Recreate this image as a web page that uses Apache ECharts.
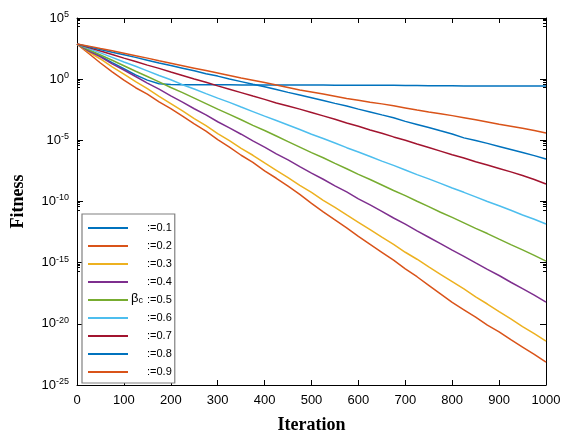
<!DOCTYPE html>
<html><head><meta charset="utf-8">
<script src="https://cdn.jsdelivr.net/npm/echarts@6/dist/echarts.min.js"></script>
</head><body style="margin:0;padding:0;background:#fff">
<div id="c" style="width:563px;height:435px;"></div>
<script>
// iteration sample points
const iterations = [0,25,50,75,100,125,150,175,200,225,250,275,300,325,350,375,400,425,450,475,500,
  525,550,575,600,625,650,675,700,725,750,775,800,825,850,875,900,925,950,975,1000];
// log10(fitness)
const beta01 = [2.87,2.38,1.88,1.35,0.85,0.35,-0.08,-0.38,-0.44,-0.45,-0.45,-0.46,-0.46,-0.46,-0.47,-0.47,-0.47,-0.47,-0.48,-0.48,-0.48,
  -0.48,-0.49,-0.49,-0.49,-0.50,-0.50,-0.50,-0.51,-0.52,-0.53,-0.53,-0.54,-0.55,-0.55,-0.55,-0.56,-0.56,-0.56,-0.56,-0.56];
const beta02 = [2.87,2.10,1.32,0.60,-0.08,-0.70,-1.22,-1.85,-2.40,-3.02,-3.66,-4.25,-4.95,-5.55,-6.22,-6.80,-7.50,-8.10,-8.75,-9.42,-10.15,
  -10.85,-11.50,-12.15,-12.85,-13.50,-14.15,-14.80,-15.50,-16.15,-16.85,-17.55,-18.25,-18.85,-19.45,-20.10,-20.65,-21.30,-21.90,-22.50,-23.13];
const beta03 = [2.87,2.22,1.65,1.00,0.42,-0.20,-0.78,-1.40,-2.00,-2.60,-3.22,-3.80,-4.45,-5.02,-5.65,-6.22,-6.85,-7.45,-8.05,-8.68,-9.25,
  -9.90,-10.48,-11.10,-11.70,-12.30,-12.92,-13.50,-14.15,-14.72,-15.35,-15.95,-16.55,-17.15,-17.80,-18.38,-19.00,-19.60,-20.22,-20.80,-21.41];
const beta04 = [2.87,2.30,1.82,1.25,0.75,0.22,-0.32,-0.82,-1.36,-1.88,-2.42,-2.92,-3.48,-3.98,-4.50,-5.05,-5.55,-6.10,-6.60,-7.15,-7.68,
  -8.18,-8.72,-9.22,-9.78,-10.28,-10.80,-11.35,-11.85,-12.40,-12.92,-13.45,-13.98,-14.48,-15.02,-15.55,-16.05,-16.60,-17.12,-17.65,-18.22];
const beta05 = [2.87,2.40,1.98,1.55,1.10,0.65,0.22,-0.22,-0.68,-1.10,-1.55,-2.00,-2.45,-2.88,-3.32,-3.78,-4.20,-4.65,-5.10,-5.55,-6.00,
  -6.42,-6.88,-7.32,-7.78,-8.20,-8.65,-9.10,-9.52,-9.98,-10.42,-10.88,-11.30,-11.75,-12.20,-12.62,-13.08,-13.52,-13.95,-14.40,-14.87];
const beta06 = [2.87,2.50,2.15,1.78,1.40,1.05,0.68,0.30,-0.05,-0.45,-0.80,-1.18,-1.55,-1.90,-2.28,-2.65,-3.02,-3.38,-3.75,-4.12,-4.50,
  -4.85,-5.22,-5.60,-5.95,-6.32,-6.70,-7.05,-7.42,-7.80,-8.15,-8.52,-8.90,-9.25,-9.62,-10.00,-10.35,-10.72,-11.10,-11.45,-11.84];
const beta07 = [2.87,2.58,2.30,2.02,1.72,1.45,1.15,0.88,0.58,0.30,0.02,-0.25,-0.55,-0.82,-1.10,-1.38,-1.65,-1.95,-2.20,-2.45,-2.72,
  -3.00,-3.28,-3.58,-3.85,-4.15,-4.42,-4.72,-5.00,-5.30,-5.58,-5.88,-6.18,-6.45,-6.75,-7.02,-7.30,-7.58,-7.88,-8.20,-8.57];
const beta08 = [2.87,2.65,2.42,2.20,2.00,1.78,1.55,1.32,1.12,0.90,0.68,0.45,0.25,0.02,-0.20,-0.42,-0.62,-0.85,-1.08,-1.30,-1.52,
  -1.75,-1.98,-2.20,-2.45,-2.68,-2.92,-3.15,-3.45,-3.70,-3.95,-4.22,-4.48,-4.80,-5.02,-5.25,-5.50,-5.75,-6.00,-6.25,-6.53];
const beta09 = [2.87,2.70,2.50,2.32,2.12,1.92,1.72,1.50,1.30,1.10,0.90,0.70,0.50,0.30,0.10,-0.08,-0.28,-0.48,-0.68,-0.88,-1.05,
  -1.22,-1.40,-1.58,-1.72,-1.88,-2.02,-2.18,-2.35,-2.52,-2.68,-2.82,-2.98,-3.15,-3.32,-3.50,-3.68,-3.85,-4.02,-4.20,-4.40];

const seriesNames = [':=0.1',':=0.2',':=0.3',':=0.4',':=0.5',':=0.6',':=0.7',':=0.8',':=0.9'];
const seriesData = [beta01,beta02,beta03,beta04,beta05,beta06,beta07,beta08,beta09];
const colors = ['#0072BD','#D95319','#EDB120','#7E2F8E','#77AC30','#4DBEEE','#A2142F','#0072BD','#D95319'];
const xTicks = {min:0, max:1000, interval:100};

const chart = echarts.init(document.getElementById('c'), null, {renderer:'canvas', width:563, height:435});
const sans = 'Liberation Sans, Arial, sans-serif';
const serif = 'Liberation Serif, Times New Roman, serif';

function yLabel(v){
  const e = Math.round(Math.log10(v));
  return '{b|10}{e|' + e + '}';
}
const yRich = {
  b:{fontSize:13, fontFamily:sans, color:'#000', lineHeight:16},
  e:{fontSize:9, fontFamily:sans, color:'#000', padding:[0,0,7,0]}
};

const yBase = {
  type:'log', logBase:10, min:1e-25, max:1e5, interval:5,
  axisLine:{show:true, onZero:false, lineStyle:{color:'#000', width:1}},
  splitLine:{show:false},
  minorSplitLine:{show:false}
};

const betaLabel = {
  type:'text', left:131, top:292, z:100,
  style:{text:'{a|β}{s|c}', rich:{a:{fontSize:13, fontFamily:sans, fill:'#000'}, s:{fontSize:9, fontFamily:sans, fill:'#000', padding:[5,0,0,0]}}}
};

chart.setOption({
  animation:false,
  backgroundColor:'#fff',
  grid:{left:77, right:17, top:18, bottom:50, containLabel:false, outerBoundsMode:'none'},
  xAxis:[{
    type:'value', min:xTicks.min, max:xTicks.max, interval:xTicks.interval, position:'bottom',
    axisLine:{onZero:false, lineStyle:{color:'#000', width:1}},
    axisTick:{inside:true, length:5, lineStyle:{color:'#000'}},
    axisLabel:{fontSize:13, fontFamily:sans, color:'#000', margin:9, formatter:(v)=>String(v), showMinLabel:true, showMaxLabel:true},
    splitLine:{show:false},
    name:'Iteration', nameLocation:'middle', nameGap:31, nameMoveOverlap:false,
    nameTextStyle:{fontFamily:serif, fontWeight:'bold', fontSize:18, color:'#000'}
  },{
    type:'value', min:xTicks.min, max:xTicks.max, interval:xTicks.interval, position:'top',
    axisLine:{onZero:false, lineStyle:{color:'#000', width:1}},
    axisTick:{inside:true, length:5, lineStyle:{color:'#000'}},
    axisLabel:{show:false}, splitLine:{show:false}
  }],
  yAxis:[Object.assign({}, yBase, {
    position:'left',
    axisTick:{inside:true, length:6, lineStyle:{color:'#000'}},
    minorTick:{show:true, splitNumber:5, length:3, lineStyle:{color:'#000'}},
    axisLabel:{formatter:yLabel, rich:yRich, margin:8, showMinLabel:true, showMaxLabel:true, hideOverlap:false},
    name:'Fitness', nameLocation:'middle', nameGap:50, nameMoveOverlap:false,
    nameTextStyle:{fontFamily:serif, fontWeight:'bold', fontSize:18, color:'#000'}
  }), Object.assign({}, yBase, {
    position:'right',
    axisTick:{inside:true, length:6, lineStyle:{color:'#000'}},
    minorTick:{show:true, splitNumber:5, length:3, lineStyle:{color:'#000'}},
    axisLabel:{show:false}
  })],
  legend:{
    orient:'vertical', left:82, top:214,
    data:seriesNames,
    icon:'rect', itemWidth:40, itemHeight:2, itemGap:4,
    padding:[7,3,4,6],
    backgroundColor:'#fff', borderColor:'#808080', borderWidth:1.2, borderRadius:0,
    textStyle:{fontSize:11, fontFamily:sans, color:'#000', lineHeight:14, padding:[0,0,0,14]},
    selectedMode:false
  },
  graphic:[betaLabel],
  series: seriesData.map((d,i)=>({
    name:seriesNames[i], type:'line', xAxisIndex:0, yAxisIndex:0,
    data: d.map((e,j)=>[iterations[j], Math.pow(10,e)]),
    showSymbol:false, symbol:'none',
    lineStyle:{color:colors[i], width:1.5},
    itemStyle:{color:colors[i]},
    z: 2
  }))
});

// If the library hid the lowest y tick label (10^-25), place it at that axis value.
try {
  let found = false;
  chart.getZr().storage.getDisplayList(true).forEach(el => {
    if (el && el.style && typeof el.style.text === 'string' && el.style.text.indexOf('-25') >= 0 && !el.ignore && !el.invisible) found = true;
  });
  if (!found) {
    const p = chart.convertToPixel({xAxisIndex:0, yAxisIndex:0}, [xTicks.min, yBase.min]);
    chart.setOption({graphic:[betaLabel, {
      type:'text', z:100, x:p[0] - 8, y:p[1],
      style:{text:yLabel(yBase.min), align:'right', verticalAlign:'middle',
        rich:{b:{fontSize:13, fontFamily:sans, fill:'#000', lineHeight:16}, e:{fontSize:9, fontFamily:sans, fill:'#000', padding:[0,0,7,0]}}}
    }]});
  }
} catch (err) {}
</script></body></html>
